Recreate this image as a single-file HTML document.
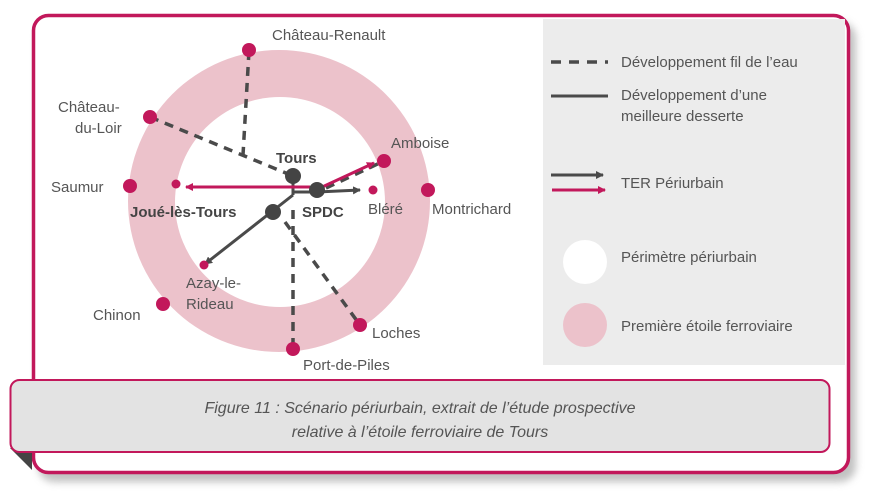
<!DOCTYPE html>
<html><head><meta charset="utf-8"><style>
html,body{margin:0;padding:0;background:#fff;}
svg text{font-family:"Liberation Sans",sans-serif;}
</style></head><body>
<svg width="869" height="496" viewBox="0 0 869 496" xmlns="http://www.w3.org/2000/svg">
<defs>
<filter id="sh" x="-5%" y="-5%" width="110%" height="115%"><feGaussianBlur stdDeviation="4"/></filter>
<marker id="ag" markerWidth="8" markerHeight="8" refX="7" refY="4" orient="auto" markerUnits="userSpaceOnUse"><path d="M0,0 L8,4 L0,8 z" fill="#4a4a4a"/></marker>
<marker id="ar" markerWidth="8" markerHeight="8" refX="7" refY="4" orient="auto" markerUnits="userSpaceOnUse"><path d="M0,0 L8,4 L0,8 z" fill="#c2185b"/></marker>
</defs>
<rect x="38" y="22" width="818" height="460" rx="16" fill="#999" filter="url(#sh)" opacity="0.6"/>
<rect x="33.5" y="15.5" width="815" height="457" rx="15" fill="#fff" stroke="#c2185b" stroke-width="3.5"/>
<rect x="543" y="19" width="302" height="346" fill="#ececec"/>
<ellipse cx="279" cy="201" rx="151" ry="151" fill="#ecc2cb"/>
<ellipse cx="280" cy="202" rx="105" ry="105" fill="#fff"/>
<g stroke="#4a4a4a" stroke-width="3.5" stroke-dasharray="9,7" fill="none">
<path d="M249,51 L243,155"/>
<path d="M150,117 L293,176"/>
<path d="M293,210 L293,349"/>
<path d="M285,222 L360,325"/>
<path d="M326,188 L384,161"/>
</g>
<g stroke="#4a4a4a" stroke-width="3" fill="none">
<path d="M293,176 L293,195"/>
<path d="M293,192 L317,192"/>
<path d="M317,192 L360,190" marker-end="url(#ag)"/>
<path d="M293,195 L205,264" marker-end="url(#ag)"/>
</g>
<g stroke="#c2185b" stroke-width="3" fill="none">
<path d="M310,187 L186,187" marker-end="url(#ar)"/>
<path d="M320,188 L374,163" marker-end="url(#ar)"/>
</g>
<g fill="#c2185b">
<circle cx="249" cy="50" r="7"/><circle cx="150" cy="117" r="7"/><circle cx="130" cy="186" r="7"/>
<circle cx="163" cy="304" r="7"/><circle cx="293" cy="349" r="7"/><circle cx="360" cy="325" r="7"/>
<circle cx="428" cy="190" r="7"/><circle cx="384" cy="161" r="7"/>
<circle cx="176" cy="184" r="4.5"/><circle cx="373" cy="190" r="4.5"/><circle cx="204" cy="265" r="4.5"/>
</g>
<g fill="#444">
<circle cx="293" cy="176" r="8"/><circle cx="317" cy="190" r="8"/><circle cx="273" cy="212" r="8"/>
</g>
<g font-size="15" fill="#555">
<text x="272" y="40">Château-Renault</text>
<text x="58" y="112">Château-</text>
<text x="75" y="133">du-Loir</text>
<text x="51" y="192">Saumur</text>
<text x="93" y="320">Chinon</text>
<text x="186" y="288">Azay-le-</text>
<text x="186" y="309">Rideau</text>
<text x="372" y="338">Loches</text>
<text x="303" y="370">Port-de-Piles</text>
<text x="391" y="148">Amboise</text>
<text x="368" y="214">Bléré</text>
<text x="432" y="214">Montrichard</text>
</g>
<g font-size="15" fill="#444" font-weight="bold">
<text x="276" y="163">Tours</text>
<text x="302" y="217">SPDC</text>
<text x="130" y="217">Joué-lès-Tours</text>
</g>
<path d="M551,62 L608,62" stroke="#4a4a4a" stroke-width="3.5" stroke-dasharray="10,8"/>
<path d="M551,96 L608,96" stroke="#4a4a4a" stroke-width="3"/>
<path d="M551,175 L603,175" stroke="#4a4a4a" stroke-width="3" marker-end="url(#ag)"/>
<path d="M552,190 L605,190" stroke="#c2185b" stroke-width="3" marker-end="url(#ar)"/>
<circle cx="585" cy="262" r="22" fill="#fff"/>
<circle cx="585" cy="325" r="22" fill="#ecc2cb"/>
<g font-size="15" fill="#555">
<text x="621" y="67">Développement fil de l’eau</text>
<text x="621" y="100">Développement d’une</text>
<text x="621" y="121">meilleure desserte</text>
<text x="621" y="188">TER Périurbain</text>
<text x="621" y="262">Périmètre périurbain</text>
<text x="621" y="331">Première étoile ferroviaire</text>
</g>
<path d="M10,448 L32,470 L32,448 z" fill="#444"/>
<rect x="10.5" y="380" width="819" height="72" rx="9" fill="#e3e3e3" stroke="#c2185b" stroke-width="2"/>
<g font-size="16" fill="#555" font-style="italic" text-anchor="middle">
<text x="420" y="413">Figure 11 : Scénario périurbain, extrait de l’étude prospective</text>
<text x="420" y="437">relative à l’étoile ferroviaire de Tours</text>
</g>
</svg>
</body></html>
